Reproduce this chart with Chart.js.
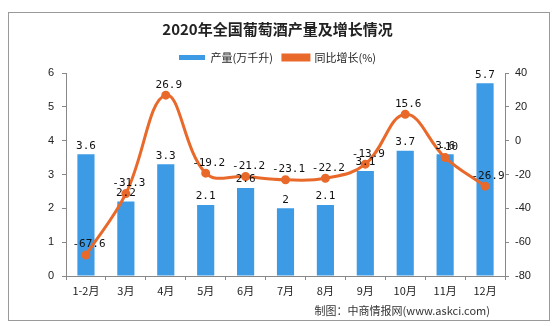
<!DOCTYPE html>
<html>
<head>
<meta charset="utf-8">
<script src="https://cdn.jsdelivr.net/npm/chart.js@4.4.1/dist/chart.umd.min.js"></script>
<style>
  body { margin: 0; background: #fff; }
  #frame { position: absolute; left: 8px; top: 12px; width: 540px; height: 307px; border: 1px solid #9a9a9a; }
  #wrap { position: absolute; left: 0; top: 0; width: 555px; height: 326px; }
</style>
</head>
<body>
<div id="frame"></div>
<div id="wrap"><canvas id="myChart" width="555" height="326"></canvas></div>
<script>
const months = ['1-2月', '3月', '4月', '5月', '6月', '7月', '8月', '9月', '10月', '11月', '12月'];
const output = [3.6, 2.2, 3.3, 2.1, 2.6, 2, 2.1, 3.1, 3.7, 3.6, 5.7];
const growth = [-67.6, -31.3, 26.9, -19.2, -21.2, -23.1, -22.2, -13.9, 15.6, -10, -26.9];
const leftTicks = [0, 1, 2, 3, 4, 5, 6];
const rightTicks = [-80, -60, -40, -20, 0, 20, 40];

document.addEventListener('DOMContentLoaded', () => {
    const ctx = document.getElementById('myChart').getContext('2d');
    const labelFont = "11px 'DejaVu Sans Mono', monospace";

    // value labels + source note
    const valueLabels = {
        id: 'valueLabels',
        afterDatasetsDraw(chart) {
            const c = chart.ctx;
            c.save();
            c.font = labelFont;
            c.fillStyle = '#111';
            c.textAlign = 'center';
            c.textBaseline = 'bottom';
            chart.getDatasetMeta(1).data.forEach((bar, i) => {
                c.fillText(String(output[i]), bar.x, bar.y - 3);
            });
            chart.getDatasetMeta(0).data.forEach((pt, i) => {
                c.fillText(String(growth[i]), pt.x + 3, pt.y - 5);
            });
            c.font = "11px 'Noto Sans CJK SC', sans-serif";
            c.fillStyle = '#333';
            c.textAlign = 'right';
            c.textBaseline = 'middle';
            c.fillText('制图：中商情报网(www.askci.com)', 490, 311);
            c.restore();
        }
    };

    new Chart(ctx, {
        data: {
            labels: months,
            datasets: [{
                type: 'line',
                label: '同比增长(%)',
                data: growth,
                yAxisID: 'y1',
                borderColor: '#e8692a',
                backgroundColor: '#e8692a',
                borderWidth: 3,
                tension: 0.4,
                pointRadius: 3,
                pointBackgroundColor: '#e8692a',
                order: 0
            }, {
                type: 'bar',
                label: '产量(万千升)',
                data: output,
                yAxisID: 'y',
                backgroundColor: '#3d9be6',
                categoryPercentage: 1,
                barPercentage: 0.43,
                order: 1
            }]
        },
        options: {
            responsive: false,
            animation: false,
            layout: { padding: { top: 0, right: 0, bottom: 0, left: 0 } },
            plugins: {
                title: {
                    display: true,
                    text: '2020年全国葡萄酒产量及增长情况',
                    color: '#222',
                    font: { family: "'Noto Sans CJK SC', serif", size: 15, weight: 'bold' },
                    padding: { top: 20, bottom: 4 }
                },
                legend: {
                    position: 'top',
                    reverse: true,
                    labels: {
                        boxWidth: 26,
                        boxHeight: 5,
                        color: '#222',
                        padding: 10,
                        font: { family: "'Noto Sans CJK SC', sans-serif", size: 11 }
                    }
                },
                tooltip: { enabled: false }
            },
            scales: {
                x: {
                    grid: { display: true, drawOnChartArea: false, offset: true, color: '#888', tickLength: 4 },
                    border: { color: '#888' },
                    ticks: { color: '#222', padding: 4, font: { family: "'Noto Sans CJK SC', sans-serif", size: 11 } },
                    afterFit(scale) { scale.height = 50; }
                },
                y: {
                    position: 'left',
                    min: 0, max: 6,
                    afterBuildTicks(scale) { scale.ticks = leftTicks.map(v => ({ value: v })); },
                    grid: { drawOnChartArea: false, color: '#888', tickLength: 4 },
                    border: { color: '#888' },
                    ticks: { color: '#222', padding: 8, font: { family: "'Liberation Sans', sans-serif", size: 11 } },
                    afterFit(scale) { scale.width = 66; }
                },
                y1: {
                    position: 'right',
                    min: -80, max: 40,
                    afterBuildTicks(scale) { scale.ticks = rightTicks.map(v => ({ value: v })); },
                    grid: { drawOnChartArea: false, color: '#888', tickLength: 4 },
                    border: { color: '#888' },
                    ticks: { color: '#222', padding: 6, font: { family: "'Liberation Sans', sans-serif", size: 11 } },
                    afterFit(scale) { scale.width = 50; }
                }
            }
        },
        plugins: [valueLabels]
    });
});
</script>
</body>
</html>
